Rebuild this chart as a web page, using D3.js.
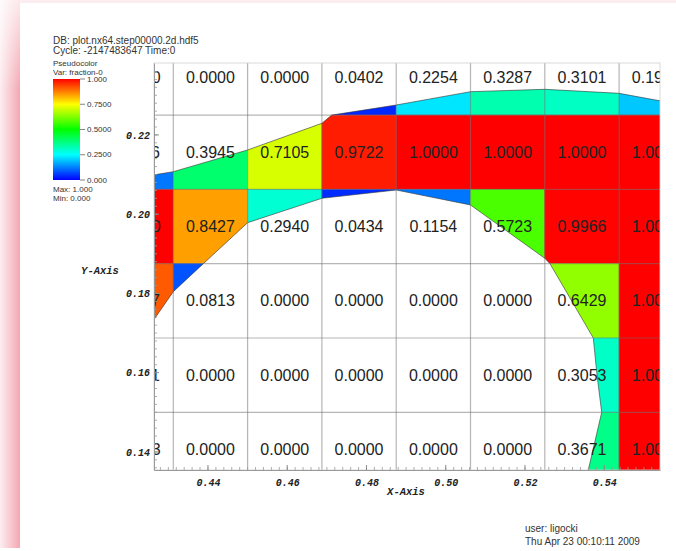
<!DOCTYPE html>
<html>
<head>
<meta charset="utf-8">
<script src="https://cdn.jsdelivr.net/npm/d3@7"></script>
<style>
  html, body { margin: 0; padding: 0; background: #fff; }
  svg { display: block; }
</style>
</head>
<body>
<script>
// ---- data -------------------------------------------------------------
const cellSize = 0.01875;
// left edges of the mesh columns and bottom edges of the rows (top row first)
const colStarts = [0.4125, 0.43125, 0.45, 0.46875, 0.4875, 0.50625, 0.525, 0.54375];
const rowStarts = [0.225, 0.20625, 0.1875, 0.16875, 0.15, 0.13125];

// volume fraction per cell, one array per mesh row (top to bottom)
const row0 = [0.0000, 0.0000, 0.0000, 0.0402, 0.2254, 0.3287, 0.3101, 0.1962];
const row1 = [0.1166, 0.3945, 0.7105, 0.9722, 1.0000, 1.0000, 1.0000, 1.0000];
const row2 = [1.0000, 0.8427, 0.2940, 0.0434, 0.1154, 0.5723, 0.9966, 1.0000];
const row3 = [0.9117, 0.0813, 0.0000, 0.0000, 0.0000, 0.0000, 0.6429, 1.0000];
const row4 = [0.4511, 0.0000, 0.0000, 0.0000, 0.0000, 0.0000, 0.3053, 1.0000];
const row5 = [0.3693, 0.0000, 0.0000, 0.0000, 0.0000, 0.0000, 0.3671, 1.0000];
const fractionRows = [row0, row1, row2, row3, row4, row5];

// reconstructed material interface (upper surface left->right, lower surface right->left)
const upperX = [0.42159, 0.43125, 0.45, 0.46875, 0.47122, 0.4875, 0.50625, 0.525, 0.54375, 0.5625];
const upperY = [0.20913, 0.21072, 0.2162, 0.22293, 0.225, 0.22755, 0.23091, 0.23151, 0.2305, 0.22705];
const lowerX = [0.5350, 0.53936, 0.53817, 0.53724, 0.52631, 0.525, 0.50625, 0.4875, 0.46875, 0.45, 0.43882, 0.43125, 0.42159];
const lowerY = [0.13125, 0.15, 0.15942, 0.16875, 0.1875, 0.18887, 0.20232, 0.2061, 0.20401, 0.19785, 0.1875, 0.18044, 0.16648];

const xTicks = [0.44, 0.46, 0.48, 0.50, 0.52, 0.54];
const yTicks = [0.14, 0.16, 0.18, 0.20, 0.22];
const legendTicks = [1.0, 0.75, 0.5, 0.25, 0.0];
const legendTickLabels = ["1.000", "0.7500", "0.5000", "0.2500", "0.000"];
const colorStops = [0, 0.25, 0.5, 0.75, 1];
const colorHex = ["#0000ff", "#00ffff", "#00ff00", "#ffff00", "#ff0000"];

// ---- layout -----------------------------------------------------------
const W = 676, H = 551;
const plot = { left: 154, right: 660, top: 63, bottom: 470 };
const view = { x0: 0.42638, x1: 0.55407, y0: 0.13544, y1: 0.23815 };

const x = d3.scaleLinear().domain([view.x0, view.x1]).range([plot.left, plot.right]);
const y = d3.scaleLinear().domain([view.y0, view.y1]).range([plot.bottom, plot.top]);
const color = d3.scaleLinear().domain(colorStops).range(colorHex).interpolate(d3.interpolateRgb).clamp(true);
const fmt = d3.format(".4f");

const svg = d3.select("body").append("svg").attr("width", W).attr("height", H);
const defs = svg.append("defs");

// ---- page frame -------------------------------------------------------
const edge = defs.append("linearGradient").attr("id", "edgeGlow").attr("x1", 0).attr("x2", 1).attr("y1", 0).attr("y2", 0);
edge.append("stop").attr("offset", "0%").attr("stop-color", "#fdeef1");
edge.append("stop").attr("offset", "100%").attr("stop-color", "#f3a7b2");
const fade = defs.append("linearGradient").attr("id", "topFade").attr("x1", 0).attr("x2", 0).attr("y1", 0).attr("y2", 1);
fade.append("stop").attr("offset", "0%").attr("stop-color", "#fff").attr("stop-opacity", 0.75);
fade.append("stop").attr("offset", "100%").attr("stop-color", "#fff").attr("stop-opacity", 0);

svg.append("rect").attr("width", W).attr("height", H).attr("fill", "#fff");
svg.append("rect").attr("x", 0).attr("y", 0).attr("width", W).attr("height", 3).attr("fill", "#fcedf0");
svg.append("rect").attr("x", 0).attr("y", 0).attr("width", 20).attr("height", 548).attr("fill", "url(#edgeGlow)");
svg.append("rect").attr("x", 0).attr("y", 0).attr("width", 20).attr("height", 90).attr("fill", "url(#topFade)");

// ---- clip paths -------------------------------------------------------
defs.append("clipPath").attr("id", "plotClip")
  .append("rect").attr("x", plot.left).attr("y", plot.top)
  .attr("width", plot.right - plot.left).attr("height", plot.bottom - plot.top);

const upperPts = upperX.map((v, i) => [v, upperY[i]]);
const lowerPts = lowerX.map((v, i) => [v, lowerY[i]]);
const farRight = 0.58;
const materialPts = upperPts
  .concat([[farRight, upperY[upperY.length - 1]], [farRight, lowerY[0]]])
  .concat(lowerPts);
const line = d3.line().x(d => x(d[0])).y(d => y(d[1]));
defs.append("clipPath").attr("id", "materialClip")
  .append("path").attr("d", line(materialPts) + "Z");

// ---- cells ------------------------------------------------------------
const cells = [];
fractionRows.forEach((vals, r) => vals.forEach((v, c) => cells.push({ r, c, v })));

const plotG = svg.append("g").attr("clip-path", "url(#plotClip)");
const matG = plotG.append("g").attr("clip-path", "url(#materialClip)");
matG.selectAll("rect.cell").data(cells).join("rect")
  .attr("class", "cell")
  .attr("x", d => x(colStarts[d.c]))
  .attr("y", d => y(rowStarts[d.r] + cellSize))
  .attr("width", d => x(colStarts[d.c] + cellSize) - x(colStarts[d.c]))
  .attr("height", d => y(rowStarts[d.r]) - y(rowStarts[d.r] + cellSize))
  .attr("fill", d => color(d.v))
  .attr("stroke", d => color(d.v))
  .attr("stroke-width", 0.5);

// interface outline
plotG.append("path").attr("d", line(upperPts)).attr("fill", "none")
  .attr("stroke", "#333").attr("stroke-width", 0.8).attr("stroke-opacity", 0.75);
plotG.append("path").attr("d", line(lowerPts)).attr("fill", "none")
  .attr("stroke", "#333").attr("stroke-width", 0.8).attr("stroke-opacity", 0.75);

// mesh lines
const colEdges = colStarts.concat([colStarts[colStarts.length - 1] + cellSize]);
const rowEdges = rowStarts.concat([rowStarts[0] + cellSize]);
plotG.selectAll("line.vgrid").data(colEdges).join("line")
  .attr("class", "vgrid")
  .attr("x1", d => x(d)).attr("x2", d => x(d))
  .attr("y1", plot.top).attr("y2", plot.bottom)
  .attr("stroke", "#6e6e6e").attr("stroke-opacity", 0.5).attr("stroke-width", 1.2);
plotG.selectAll("line.hgrid").data(rowEdges).join("line")
  .attr("class", "hgrid")
  .attr("y1", d => y(d)).attr("y2", d => y(d))
  .attr("x1", plot.left).attr("x2", plot.right)
  .attr("stroke", "#6e6e6e").attr("stroke-opacity", 0.5).attr("stroke-width", 1.2);

// value labels
plotG.selectAll("text.val").data(cells).join("text")
  .attr("class", "val")
  .attr("x", d => x(colStarts[d.c] + cellSize / 2))
  .attr("y", d => y(rowStarts[d.r] + cellSize / 2))
  .attr("text-anchor", "middle")
  .attr("dominant-baseline", "central")
  .attr("font-family", "'Liberation Sans', Arial, sans-serif")
  .attr("font-size", 16)
  .attr("fill", "#222")
  .text(d => fmt(d.v));

// plot frame
svg.append("rect").attr("x", plot.left).attr("y", plot.top)
  .attr("width", plot.right - plot.left).attr("height", plot.bottom - plot.top)
  .attr("fill", "none").attr("stroke", "#d0d0d0").attr("stroke-width", 0.8);

// ---- axes -------------------------------------------------------------
const axisFont = "'Liberation Mono', 'DejaVu Sans Mono', monospace";
const xAxis = d3.axisBottom(x).tickValues(xTicks).tickSize(0).tickPadding(9).tickFormat(d3.format(".2f"));
const yAxis = d3.axisLeft(y).tickValues(yTicks).tickSize(0).tickPadding(4).tickFormat(d3.format(".2f"));
const gx = svg.append("g").attr("transform", `translate(0,${plot.bottom})`).call(xAxis);
const gy = svg.append("g").attr("transform", `translate(${plot.left},0)`).call(yAxis);
[gx, gy].forEach(g => {
  g.select(".domain").attr("stroke", "#9a9a9a").attr("stroke-width", 1);
  g.selectAll("text").attr("font-family", axisFont).attr("font-size", 10)
    .attr("font-weight", "bold").attr("font-style", "italic").attr("fill", "#222");
});

// minor and major tick marks drawn inside the frame
const minorX = d3.range(0.428, 0.554, 0.002);
const minorY = d3.range(0.136, 0.238, 0.002);
svg.append("g").selectAll("line").data(minorX).join("line")
  .attr("x1", d => x(d)).attr("x2", d => x(d))
  .attr("y1", plot.bottom).attr("y2", plot.bottom - 3)
  .attr("stroke", "#9a9a9a").attr("stroke-width", 0.8);
svg.append("g").selectAll("line").data(minorY).join("line")
  .attr("y1", d => y(d)).attr("y2", d => y(d))
  .attr("x1", plot.left).attr("x2", plot.left + 3)
  .attr("stroke", "#9a9a9a").attr("stroke-width", 0.8);
svg.append("g").selectAll("line").data(xTicks).join("line")
  .attr("x1", d => x(d)).attr("x2", d => x(d))
  .attr("y1", plot.bottom).attr("y2", plot.bottom - 5)
  .attr("stroke", "#8a8a8a").attr("stroke-width", 1);
svg.append("g").selectAll("line").data(yTicks).join("line")
  .attr("y1", d => y(d)).attr("y2", d => y(d))
  .attr("x1", plot.left).attr("x2", plot.left + 5)
  .attr("stroke", "#8a8a8a").attr("stroke-width", 1);

svg.append("text").attr("x", 406).attr("y", 495).attr("text-anchor", "middle")
  .attr("font-family", axisFont).attr("font-size", 10.5).attr("font-weight", "bold")
  .attr("font-style", "italic").attr("fill", "#222").text("X-Axis");
svg.append("text").attr("x", 100).attr("y", 274).attr("text-anchor", "middle")
  .attr("font-family", axisFont).attr("font-size", 10.5).attr("font-weight", "bold")
  .attr("font-style", "italic").attr("fill", "#222").text("Y-Axis");

// ---- annotation & legend ----------------------------------------------
const annoFont = "'Liberation Sans', Arial, sans-serif";
const anno = (tx, ax, ay, size) => svg.append("text").attr("x", ax).attr("y", ay)
  .attr("font-family", annoFont).attr("font-size", size).attr("fill", "#333").text(tx);

anno("DB: plot.nx64.step00000.2d.hdf5", 53, 44, 10);
anno("Cycle: -2147483647 Time:0", 53, 54, 10);
anno("Pseudocolor", 53, 66, 8);
anno("Var: fraction-0", 53, 75, 8);

const bar = { x: 53, y: 79, w: 27, h: 101 };
const lg = defs.append("linearGradient").attr("id", "legendRamp")
  .attr("x1", 0).attr("x2", 0).attr("y1", 1).attr("y2", 0);
colorStops.forEach((s, i) => lg.append("stop").attr("offset", `${s * 100}%`).attr("stop-color", colorHex[i]));
svg.append("rect").attr("x", bar.x).attr("y", bar.y).attr("width", bar.w).attr("height", bar.h)
  .attr("fill", "url(#legendRamp)");
const ly = d3.scaleLinear().domain([0, 1]).range([bar.y + bar.h, bar.y]);
const lgTicks = svg.append("g");
lgTicks.selectAll("line").data(legendTicks).join("line")
  .attr("x1", bar.x + bar.w).attr("x2", bar.x + bar.w + 5)
  .attr("y1", d => ly(d)).attr("y2", d => ly(d))
  .attr("stroke", "#666").attr("stroke-width", 0.8);
lgTicks.selectAll("text").data(legendTicks).join("text")
  .attr("x", bar.x + bar.w + 7).attr("y", d => ly(d))
  .attr("dominant-baseline", "central")
  .attr("font-family", annoFont).attr("font-size", 8).attr("fill", "#333")
  .text((d, i) => legendTickLabels[i]);
anno("Max: 1.000", 53, 192, 8);
anno("Min: 0.000", 53, 201, 8);

anno("user: ligocki", 525, 532, 10);
anno("Thu Apr 23 00:10:11 2009", 525, 545, 10);
</script>
</body>
</html>
